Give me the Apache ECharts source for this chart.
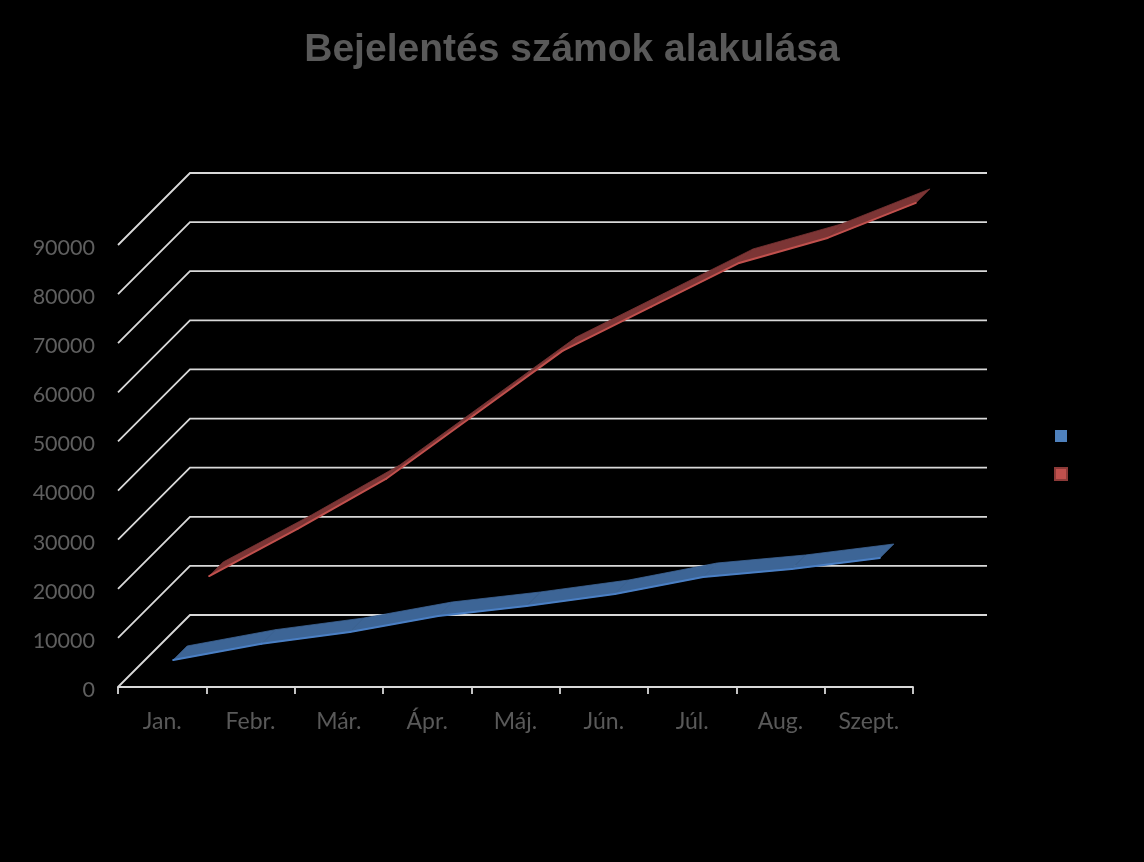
<!DOCTYPE html>
<html><head><meta charset="utf-8">
<style>html,body{margin:0;padding:0;background:#000}#c{width:1144px;height:862px}</style>
<script src="https://cdn.jsdelivr.net/npm/echarts@6/dist/echarts.min.js"></script>
</head><body><div id="c"></div>
<script>
const chartTitle = 'Bejelentés számok alakulása';
const categories = ['Jan.','Febr.','Már.','Ápr.','Máj.','Jún.','Júl.','Aug.','Szept.'];
const yTicks = [0,10000,20000,30000,40000,50000,60000,70000,80000,90000];
const blueValues = [3260,6580,8960,12220,14260,16700,20160,21790,24030];
const redValues = [13030,22610,32790,45825,58860,67820,76780,81870,89000];
const blueName = 'Sorozat1';
const redName = 'Sorozat2';

const wallDepth = 72;

function wallItem(params, api) {
  const cs = params.coordSys;
  const p = api.coord([0, api.value(0)]);
  const x0 = cs.x, y0 = p[1];
  return {
    type: 'polyline',
    shape: { points: [[x0, y0], [x0 + wallDepth, y0 - wallDepth], [x0 + cs.width + wallDepth + 2, y0 - wallDepth]] },
    style: { stroke: '#d9d9d9', lineWidth: 1.8, fill: null }
  };
}

function ribbon(values, dFront, dBack, face, edge) {
  return function (params, api) {
    const i = params.dataIndex;
    if (i >= values.length - 1) return { type: 'group', children: [] };
    const a = api.coord([i, values[i]]);
    const b = api.coord([i + 1, values[i + 1]]);
    const off = (p, d) => [p[0] + d, p[1] - d];
    return {
      type: 'group',
      children: [
        { type: 'polygon',
          shape: { points: [off(a, dFront), off(b, dFront), off(b, dBack), off(a, dBack)] },
          style: { fill: face, stroke: face, lineWidth: 0.8 } },
        { type: 'line',
          shape: { x1: a[0] + dFront, y1: a[1] - dFront, x2: b[0] + dFront, y2: b[1] - dFront },
          style: { stroke: edge, lineWidth: 2, lineCap: 'round' } }
      ]
    };
  };
}

const chart = echarts.init(document.getElementById('c'), null, { renderer: 'canvas' });
chart.setOption({
  animation: false,
  backgroundColor: '#000',
  title: {
    text: chartTitle, left: 567, top: 26, textAlign: 'center',
    textStyle: { color: '#595959', fontFamily: 'Liberation Sans', fontWeight: 'bold', fontSize: 39 }
  },
  legend: {
    orient: 'vertical', left: 1049, top: 425, icon: 'rect',
    itemWidth: 12, itemHeight: 12, itemGap: 25,
    data: [blueName, redName],
    formatter: () => '',
    selectedMode: false
  },
  grid: { left: 118, right: 231, top: 245, bottom: 175, containLabel: false },
  xAxis: {
    type: 'category', data: categories, boundaryGap: true,
    axisLine: { lineStyle: { color: '#d9d9d9', width: 1.8 } },
    axisTick: { show: true, alignWithLabel: false, length: 7, lineStyle: { color: '#d9d9d9', width: 1.8 } },
    axisLabel: { color: '#595959', fontFamily: 'Lato', fontSize: 23, margin: 23 }
  },
  yAxis: {
    type: 'value', min: 0, max: 90000, interval: 10000,
    axisLine: { show: false }, axisTick: { show: false }, splitLine: { show: false },
    axisLabel: { color: '#5f5f5f', fontFamily: 'Lato', fontSize: 21.5, margin: 23, verticalAlign: 'top', lineHeight: 6, formatter: v => String(v) }
  },
  series: [
    { type: 'custom', name: 'fal', silent: true, clip: false, z: 1, renderItem: wallItem,
      data: yTicks.map(v => [v]), encode: { y: 0 } },
    { type: 'custom', name: blueName, clip: false, z: 3, itemStyle: { color: '#4f81bd' },
      renderItem: ribbon(blueValues, 11, 25, '#3d6596', '#4a7fc4'),
      data: blueValues.map((v, i) => [i, v]), encode: { x: 0, y: 1 } },
    { type: 'custom', name: redName, clip: false, z: 2, itemStyle: { color: '#c0504d', borderColor: '#8c3a38', borderWidth: 1 },
      renderItem: ribbon(redValues, 47, 61, '#7c3535', '#c0504d'),
      data: redValues.map((v, i) => [i, v]), encode: { x: 0, y: 1 } }
  ]
});
</script></body></html>
